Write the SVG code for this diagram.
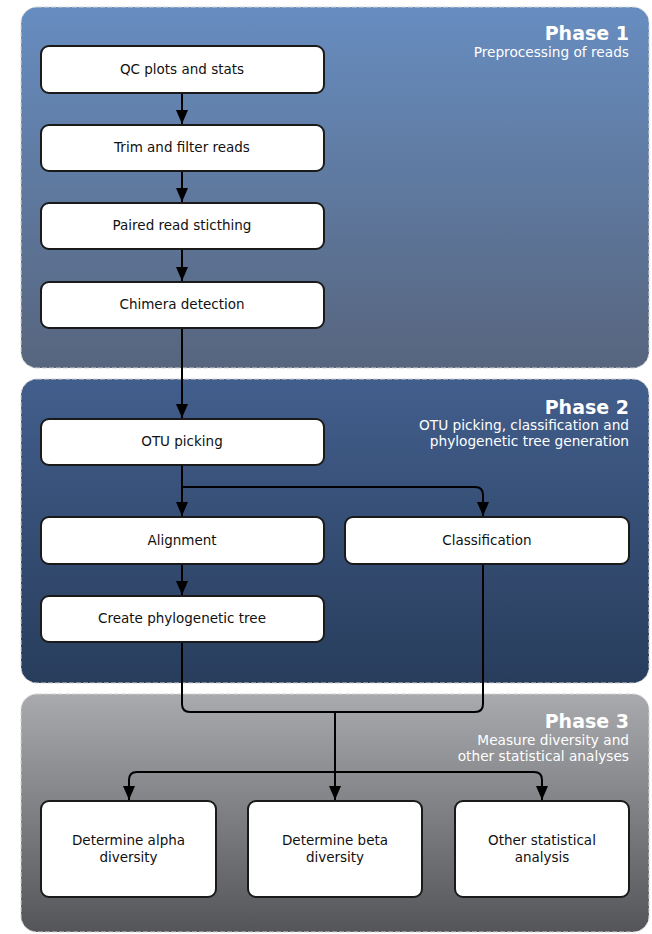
<svg xmlns="http://www.w3.org/2000/svg" width="652" height="934" viewBox="0 0 652 934">
<defs>
<linearGradient id="g1" x1="0" y1="0" x2="0" y2="1"><stop offset="0" stop-color="#678dc0"/><stop offset="1" stop-color="#57657e"/></linearGradient>
<linearGradient id="g2" x1="0" y1="0" x2="0" y2="1"><stop offset="0" stop-color="#425e8c"/><stop offset="1" stop-color="#283d5c"/></linearGradient>
<linearGradient id="g3" x1="0" y1="0" x2="0" y2="1"><stop offset="0" stop-color="#a9aaae"/><stop offset="1" stop-color="#545559"/></linearGradient>
<marker id="ah" viewBox="0 0 14 12" refX="14" refY="6" markerWidth="7" markerHeight="6" orient="auto" markerUnits="strokeWidth"><path d="M0,0 L14,6 L0,12 z" fill="#000"/></marker>
<style>
.panel{stroke:#d4d4d4;stroke-width:1;stroke-dasharray:5 2}
.node rect{fill:#fff;stroke:#1a1a1a;stroke-width:2}
.node text{font-family:"DejaVu Sans",Verdana,sans-serif;font-size:13.5px;fill:#111;text-anchor:middle}
.title{font-family:"DejaVu Sans",Verdana,sans-serif;font-size:19px;font-weight:bold;fill:#fff;text-anchor:end}
.sub{font-family:"DejaVu Sans",Verdana,sans-serif;font-size:13.7px;fill:#fff;text-anchor:end}
.conn path{fill:none;stroke:#000;stroke-width:2}
</style>
</defs>
<rect width="652" height="934" fill="#fff"/>
<g id="phase1">
<rect class="panel" x="21" y="7" width="628" height="361" rx="16" fill="url(#g1)"/>
<text class="title" x="629" y="40">Phase 1</text>
<text class="sub" x="629" y="57">Preprocessing of reads</text>
</g>
<g id="phase2">
<rect class="panel" x="21" y="379" width="628" height="304" rx="16" fill="url(#g2)"/>
<text class="title" x="629" y="414">Phase 2</text>
<text class="sub" x="629" y="430">OTU picking, classification and</text>
<text class="sub" x="629" y="446">phylogenetic tree generation</text>
</g>
<g id="phase3">
<rect class="panel" x="21" y="694" width="628" height="238" rx="16" fill="url(#g3)"/>
<text class="title" x="629" y="728">Phase 3</text>
<text class="sub" x="629" y="745">Measure diversity and</text>
<text class="sub" x="629" y="761">other statistical analyses</text>
</g>
<g id="connectors" class="conn">
<path d="M182,93 V124" marker-end="url(#ah)"/>
<path d="M182,171 V202" marker-end="url(#ah)"/>
<path d="M182,249 V281" marker-end="url(#ah)"/>
<path d="M182,328 V418" marker-end="url(#ah)"/>
<path d="M182,465 V516" marker-end="url(#ah)"/>
<path d="M182,487 H475 Q483,487 483,495 V516" marker-end="url(#ah)"/>
<path d="M182,564 V595" marker-end="url(#ah)"/>
<path d="M182,642 V704 Q182,712 190,712 H475 Q483,712 483,704 V564"/>
<path d="M335,712 V800" marker-end="url(#ah)"/>
<path d="M335,772 H137 Q129,772 129,780 V800" marker-end="url(#ah)"/>
<path d="M335,772 H534 Q542,772 542,780 V800" marker-end="url(#ah)"/>
</g>
<g id="n_qc" class="node"><rect x="41" y="46" width="283" height="47" rx="8"/><text x="182" y="74">QC plots and stats</text></g>
<g id="n_trim" class="node"><rect x="41" y="125" width="283" height="46" rx="8"/><text x="182" y="152">Trim and filter reads</text></g>
<g id="n_paired" class="node"><rect x="41" y="203" width="283" height="46" rx="8"/><text x="182" y="230">Paired read sticthing</text></g>
<g id="n_chimera" class="node"><rect x="41" y="282" width="283" height="46" rx="8"/><text x="182" y="309">Chimera detection</text></g>
<g id="n_otu" class="node"><rect x="41" y="419" width="283" height="46" rx="8"/><text x="182" y="446">OTU picking</text></g>
<g id="n_align" class="node"><rect x="41" y="517" width="283" height="47" rx="8"/><text x="182" y="545">Alignment</text></g>
<g id="n_class" class="node"><rect x="345" y="517" width="284" height="47" rx="8"/><text x="487" y="545">Classification</text></g>
<g id="n_tree" class="node"><rect x="41" y="596" width="283" height="46" rx="8"/><text x="182" y="623">Create phylogenetic tree</text></g>
<g id="n_alpha" class="node"><rect x="41" y="801" width="175" height="96" rx="8"/><text x="128.5" y="845">Determine alpha</text><text x="128.5" y="862">diversity</text></g>
<g id="n_beta" class="node"><rect x="248" y="801" width="174" height="96" rx="8"/><text x="335" y="845">Determine beta</text><text x="335" y="862">diversity</text></g>
<g id="n_other" class="node"><rect x="455" y="801" width="174" height="96" rx="8"/><text x="542" y="845">Other statistical</text><text x="542" y="862">analysis</text></g>
</svg>
